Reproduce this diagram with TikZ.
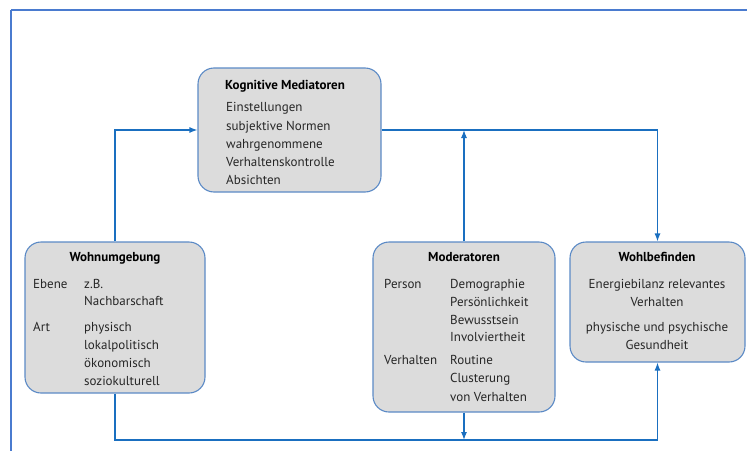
\documentclass[tikz,border=0pt]{standalone}
\usepackage{fontspec}
\setmainfont{PT Sans}
\usetikzlibrary{arrows.meta,calc}
\definecolor{framecol}{HTML}{4A7BCF}
\definecolor{boxborder}{HTML}{5B8AC6}
\definecolor{boxfill}{HTML}{DCDCDC}
\definecolor{linecol}{HTML}{1A6FC0}
\definecolor{txt}{HTML}{262626}
\tikzset{
  box/.style={draw=boxborder, fill=boxfill, line width=1.1pt, rounded corners=16pt, inner sep=0pt},
  conn/.style={draw=linecol, line width=1.2pt},
  arr/.style={conn, -{Latex[length=8pt,width=6pt]}},
  ttl/.style={font=\fontsize{13}{15}\selectfont\bfseries, text=black, inner sep=0pt, anchor=base},
  itm/.style={font=\fontsize{13}{15}\selectfont, text=txt, inner sep=0pt, anchor=base west},
  itmc/.style={font=\fontsize{13}{15}\selectfont, text=txt, inner sep=0pt, anchor=base}
}
\begin{document}
\begin{tikzpicture}[x=1pt,y=-1pt]
\useasboundingbox (0,0) rectangle (747,450);
\draw[framecol, line width=2pt] (11,10) -- (800,10) (11,10) -- (11,500);
% boxes
\node[box, minimum width=183pt, minimum height=124pt] (med) at (289.5,130) {};
\node[box, minimum width=180pt, minimum height=151pt] (wohn) at (115,317.5) {};
\node[box, minimum width=182pt, minimum height=170pt] (mod) at (464,327) {};
\node[box, minimum width=175pt, minimum height=120pt] (wohl) at (657.5,302) {};
% Mediatoren text
\node[ttl, anchor=base west] (medt) at (225,89) {Kognitive Mediatoren};
\node[itm] (m1) at (226,111) {Einstellungen};
\node[itm] (m2) at (226,130) {subjektive Normen};
\node[itm] (m3) at (226,148) {wahrgenommene};
\node[itm] (m4) at (226,166) {Verhaltenskontrolle};
\node[itm] (m5) at (226,184) {Absichten};
% Wohnumgebung text
\node[ttl] (wt) at (115,261) {Wohnumgebung};
\node[itm] (w1) at (33,288) {Ebene};
\node[itm] (w2) at (84,288) {z.B.};
\node[itm] (w3) at (84,305) {Nachbarschaft};
\node[itm] (w4) at (33,331) {Art};
\node[itm] (w5) at (84,331) {physisch};
\node[itm] (w6) at (84,349) {lokalpolitisch};
\node[itm] (w7) at (84,367) {ökonomisch};
\node[itm] (w8) at (84,385) {soziokulturell};
% Moderatoren text
\node[ttl] (mot) at (464,261) {Moderatoren};
\node[itm] (o1) at (384,288) {Person};
\node[itm] (o2) at (450,288) {Demographie};
\node[itm] (o3) at (450,306) {Persönlichkeit};
\node[itm] (o4) at (450,324) {Bewusstsein};
\node[itm] (o5) at (450,341) {Involviertheit};
\node[itm] (o6) at (384,364) {Verhalten};
\node[itm] (o7) at (450,364) {Routine};
\node[itm] (o8) at (450,382) {Clusterung};
\node[itm] (o9) at (450,401) {von Verhalten};
% Wohlbefinden text
\node[ttl] (wbt) at (657,261) {Wohlbefinden};
\node[itmc] (b1) at (657,288) {Energiebilanz relevantes};
\node[itmc] (b2) at (657,306) {Verhalten};
\node[itmc] (b3) at (657,331) {physische und psychische};
\node[itmc] (b4) at (657,349) {Gesundheit};
% connectors
\coordinate (bot) at (115,440);
\draw[arr] (wohn.north) |- (med.west);
\draw[arr] (med.east) -| (wohl.north);
\draw[arr] (mod.north) -- (mod.north |- med.east);
\draw[arr] (wohn.south) -- (bot) -| (wohl.south);
\draw[arr] (mod.south) -- (mod.south |- bot);
\end{tikzpicture}
\end{document}
